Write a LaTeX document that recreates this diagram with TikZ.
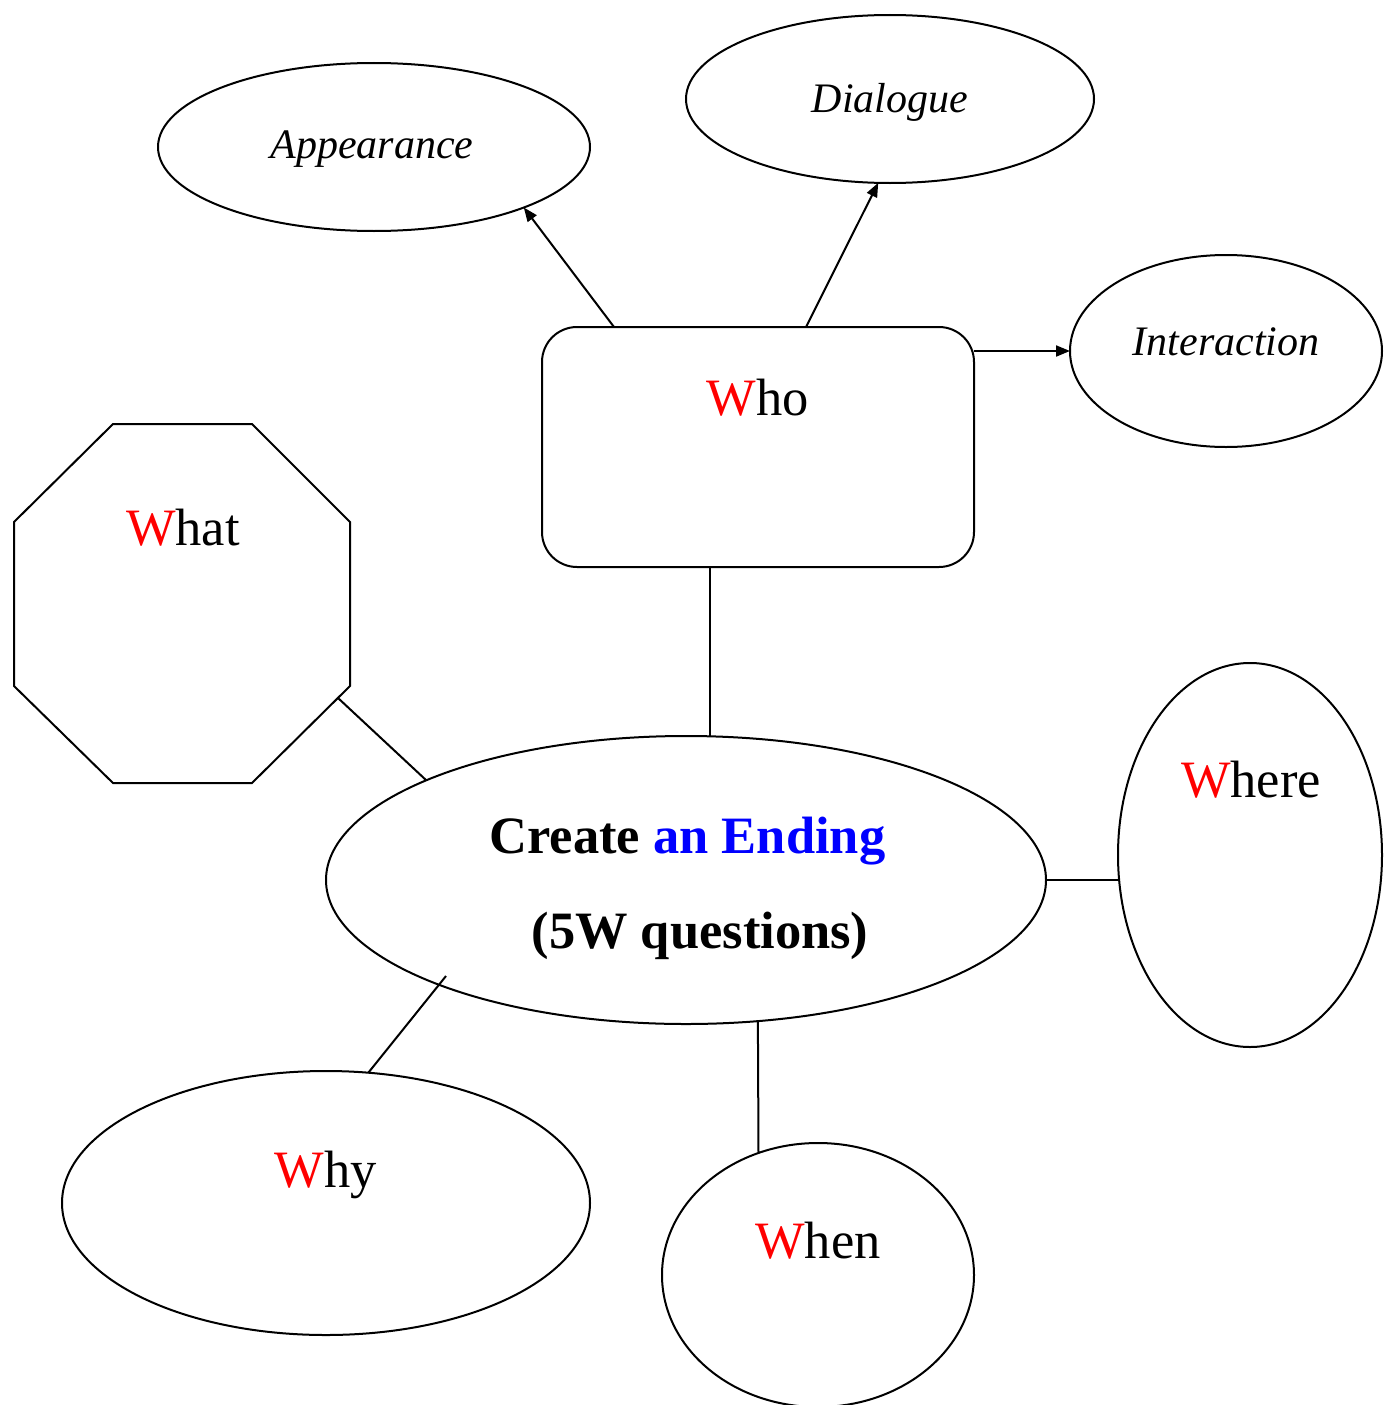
\documentclass[tikz,border=0pt]{standalone}
\usepackage{fontspec}
\setmainfont{Liberation Serif}
\usetikzlibrary{shapes.geometric,arrows.meta,calc}
\begin{document}
\begin{tikzpicture}[x=1pt,y=-1pt,
  shp/.style={draw,line width=2pt,inner sep=0pt,outer sep=0pt},
  oval/.style={shp,ellipse},
  lbl/.style={anchor=base,inner sep=0pt,font=\fontsize{52.5}{60}\selectfont},
  blbl/.style={anchor=base,inner sep=0pt,font=\fontsize{52.5}{60}\selectfont\bfseries},
  ilbl/.style={anchor=base,inner sep=0pt,font=\fontsize{42}{50}\selectfont\itshape},
  conn/.style={line width=2pt},
  arr/.style={conn,-{Triangle[length=14pt,width=11pt]}}]
\useasboundingbox (0,0) rectangle (1385,1405);
% shapes
\node[oval,minimum width=432pt,minimum height=168pt] (app) at (374,147) {};
\node[oval,minimum width=408pt,minimum height=168pt] (dia) at (890,99) {};
\node[oval,minimum width=312pt,minimum height=192pt] (int) at (1226,351) {};
\node[shp,rounded corners=35pt,minimum width=432pt,minimum height=240pt] (who) at (758,447) {};
\node[oval,minimum width=720pt,minimum height=288pt] (cen) at (686,880) {};
\node[oval,minimum width=264pt,minimum height=384pt] (whe) at (1250,855) {};
\node[oval,minimum width=528pt,minimum height=264pt] (why) at (326,1203) {};
\node[oval,minimum width=312pt,minimum height=264pt] (whn) at (818,1275) {};
\draw[conn,line join=miter] (113,424) -- (252,424) -- (350,522) -- (350,686) -- (252,783) -- (113,783) -- (14,686) -- (14,522) -- cycle;
\coordinate (whatedge) at (338,698);
\coordinate (whyend) at (446,976);
% connectors
\draw[arr] ([xshift=72pt]who.north west) -- (app.-22.5);
\draw[arr] ([xshift=264pt]who.north west) -- (dia.-98);
\draw[arr] ([yshift=-24pt]who.north east) -- (int.west);
\draw[conn] ([xshift=-48pt]who.south) -- ([xshift=-48pt]who.south |- cen.north);
\draw[conn] (whatedge) -- (cen.159.8);
\draw[conn] (cen.east) -- (cen.east -| whe.west);
\draw[conn] (whyend) -- (why.72);
\draw[conn] (cen.-63) -- (whn.116.2);
% labels
\node[ilbl] (tapp) at (372,158) {Appearance};
\node[ilbl] (tdia) at (890,112) {Dialogue};
\node[ilbl] (tint) at (1226,355) {Interaction};
\node[lbl] (twho) at (758,415) {\textcolor{red}{W}ho};
\node[lbl] (twhat) at (183,545) {\textcolor{red}{W}hat};
\node[blbl] (tcre) at (687.5,853) {Create \textcolor{blue}{an Ending}};
\node[blbl] (tq) at (700,948) {(5W questions)};
\node[lbl] (twhe) at (1251,797) {\textcolor{red}{W}here};
\node[lbl] (twhy) at (326,1187) {\textcolor{red}{W}hy};
\node[lbl] (twhn) at (818,1258) {\textcolor{red}{W}hen};
\end{tikzpicture}
\end{document}
